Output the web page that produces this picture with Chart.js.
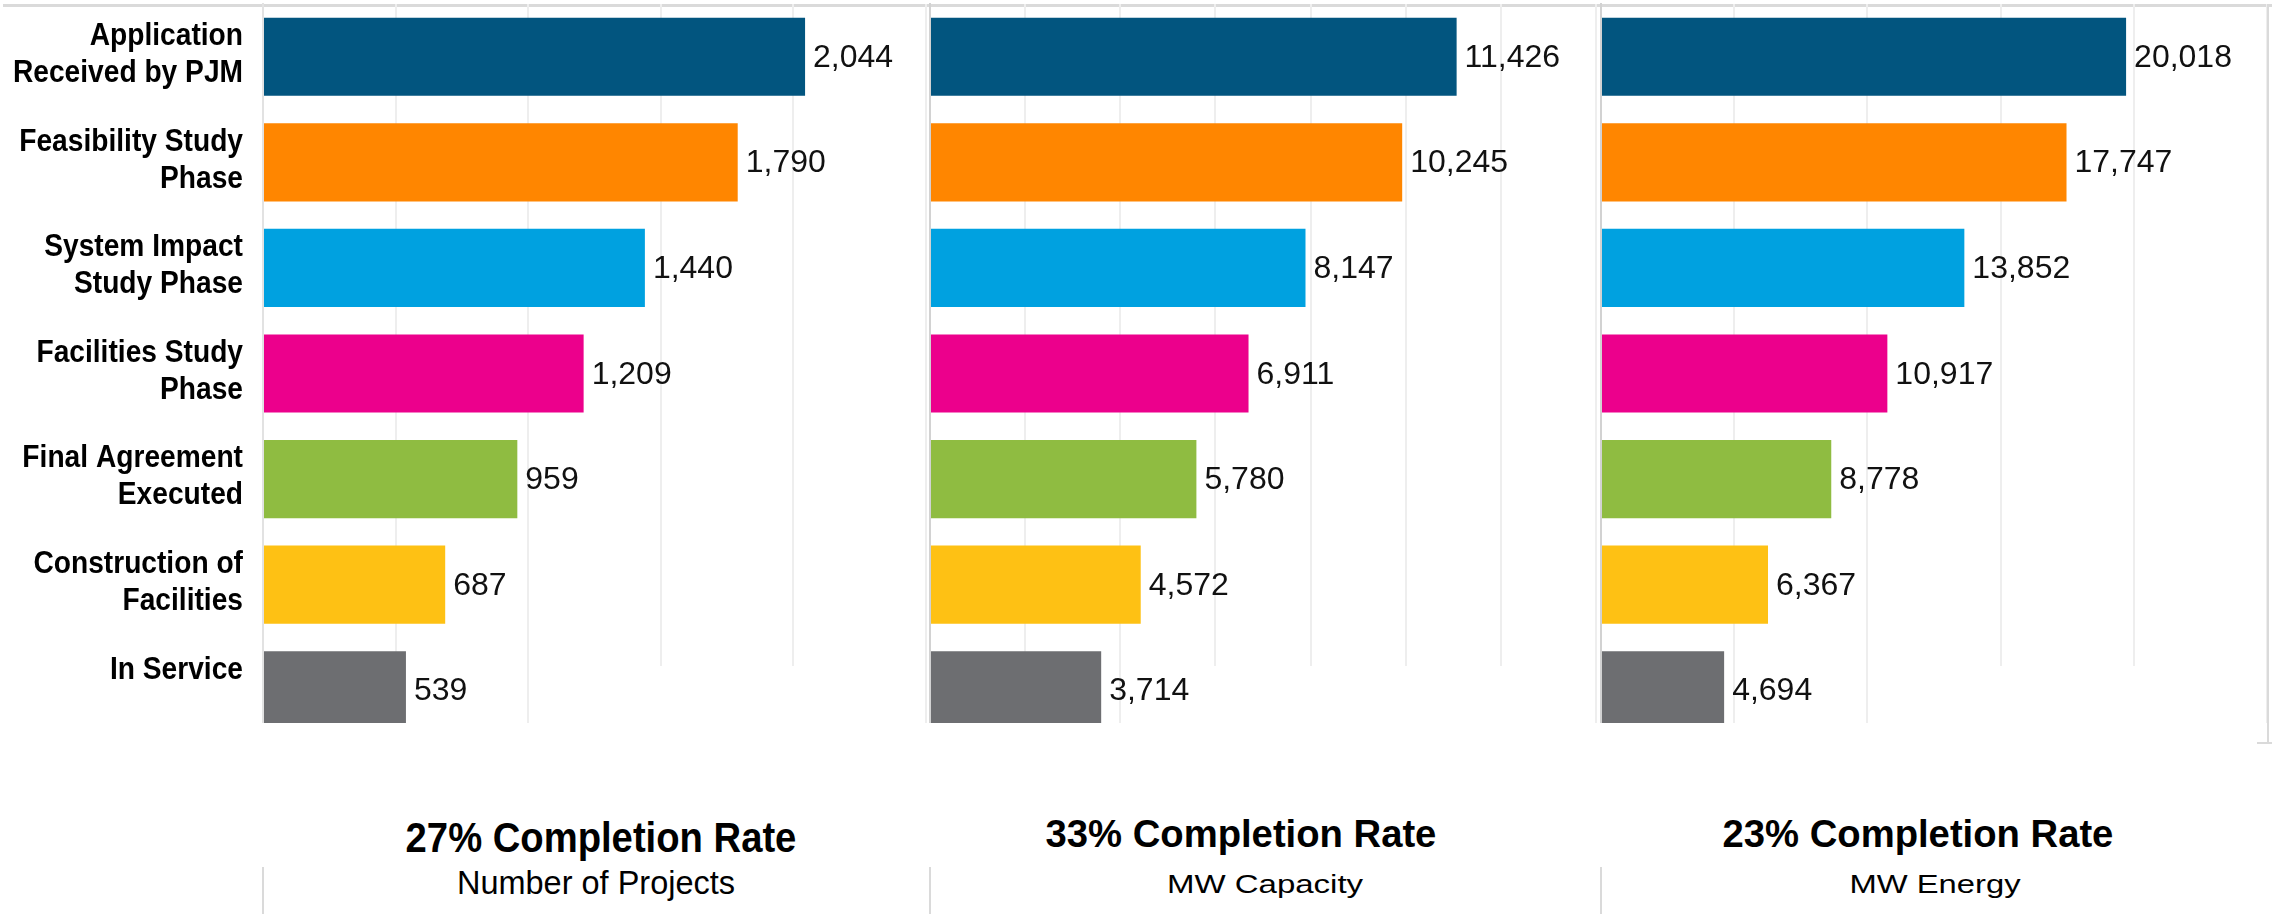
<!DOCTYPE html>
<html><head><meta charset="utf-8">
<script src="https://cdn.jsdelivr.net/npm/chart.js@4/dist/chart.umd.min.js"></script>
<style>
html,body{margin:0;padding:0;background:#fff;}
body{width:2272px;height:914px;position:relative;overflow:hidden;font-family:"Liberation Sans",Arial,sans-serif;}
.clip{position:absolute;top:0;height:723px;overflow:hidden;}
.clip canvas{position:absolute;left:0;top:0;}
.line{position:absolute;background:#dadada;}
.mask{position:absolute;background:#fff;top:666px;height:57px;}
.t{position:absolute;white-space:nowrap;line-height:1;color:#000;transform-origin:50% 0;}
.b{font-weight:bold;}
</style></head><body>
<div class="line" style="left:3px;top:4px;width:2269px;height:3px;"></div>
<div class="clip" style="left:0;width:930px;"><canvas id="c1" width="930" height="743"></canvas></div>
<div class="clip" style="left:929px;width:670px;"><canvas id="c2" width="670" height="743"></canvas></div>
<div class="clip" style="left:1600px;width:672px;"><canvas id="c3" width="672" height="743"></canvas></div>
<div class="mask" style="left:600px;width:250px;"></div>
<div class="mask" style="left:1200px;width:320px;"></div>
<div class="mask" style="left:1930px;width:260px;"></div>
<div class="line" style="left:2267px;top:4px;width:2px;height:739px;"></div>
<div class="line" style="left:2257px;top:742px;width:15px;height:2px;"></div>
<div class="line" style="left:262px;top:867px;width:2px;height:47px;"></div>
<div class="line" style="left:929px;top:867px;width:2px;height:47px;"></div>
<div class="line" style="left:1600px;top:867px;width:2px;height:47px;"></div>
<div id="footer"></div>
<script>
// ---- data ----
const categories = [
  ["Application", "Received by PJM"],
  ["Feasibility Study", "Phase"],
  ["System Impact", "Study Phase"],
  ["Facilities Study", "Phase"],
  ["Final Agreement", "Executed"],
  ["Construction of", "Facilities"],
  ["In Service", ""]
];
const numberOfProjects = [2044, 1790, 1440, 1209, 959, 687, 539];
const mwCapacity = [11426, 10245, 8147, 6911, 5780, 4572, 3714];
const mwEnergy = [20018, 17747, 13852, 10917, 8778, 6367, 4694];
const completionTitles = ["27% Completion Rate", "33% Completion Rate", "23% Completion Rate"];
const panelNames = ["Number of Projects", "MW Capacity", "MW Energy"];
const axisMax = [2500, 14450, 25390];
const axisStep = [500, 2000, 5000];
const barColors = ["#02557F", "#FF8600", "#00A1E0", "#EC008C", "#8FBC41", "#FEC114", "#6D6E71"];

const labelFamily = '"Liberation Sans", Arial, sans-serif';
const labelCondense = 0.88;

// category tick labels are drawn by Chart.js itself, only horizontally condensed
const condensedTicks = {
  id: 'condensedTicks',
  beforeDraw(chart) {
    const s = chart.scales.y;
    if (!s || s._condensed) return;
    s._condensed = true;
    s._computeLabelArea = function () { return undefined; };
    const orig = s.drawLabels;
    s.drawLabels = function (area) {
      const ctx = this.ctx;
      const ax = this.right - this.options.ticks.padding;
      ctx.save();
      ctx.translate(ax, 0);
      ctx.scale(labelCondense, 1);
      ctx.translate(-ax, 0);
      orig.call(this, area);
      ctx.restore();
    };
  }
};

const valueLabels = {
  id: 'valueLabels',
  afterDatasetsDraw(chart) {
    const ctx = chart.ctx;
    const meta = chart.getDatasetMeta(0);
    const data = chart.data.datasets[0].data;
    ctx.save();
    ctx.font = '32px "Liberation Sans", Arial, sans-serif';
    ctx.fillStyle = '#111';
    ctx.textAlign = 'left';
    ctx.textBaseline = 'alphabetic';
    meta.data.forEach((bar, i) => {
      ctx.fillText(data[i].toLocaleString('en-US'), bar.x + 8, bar.y + 10);
    });
    ctx.restore();
  }
};

function makeChart(id, values, idx, showLabels, yWidth, pad, borderColor) {
  return new Chart(document.getElementById(id), {
    type: 'bar',
    data: {
      labels: categories,
      datasets: [{
        data: values,
        backgroundColor: barColors,
        borderWidth: 0,
        barPercentage: 0.74,
        categoryPercentage: 1.0
      }]
    },
    options: {
      indexAxis: 'y',
      responsive: false,
      animation: false,
      devicePixelRatio: 1,
      layout: { padding: pad },
      plugins: { legend: { display: false }, tooltip: { enabled: false } },
      scales: {
        x: {
          min: 0,
          max: axisMax[idx],
          ticks: { display: false, stepSize: axisStep[idx], includeBounds: false },
          grid: {
            drawTicks: false,
            lineWidth: 2,
            color: (c) => (c.tick && c.tick.value === 0) ? 'rgba(0,0,0,0)' : '#eeeeee'
          },
          border: { display: false },
          afterFit: (s) => { s.height = 0; s.paddingLeft = 0; s.paddingRight = 0; }
        },
        y: {
          ticks: {
            display: showLabels,
            color: '#000',
            padding: 20,
            labelOffset: -2,
            font: { family: labelFamily, size: 32, weight: 'bold', lineHeight: '37px' }
          },
          grid: { display: true, color: 'rgba(0,0,0,0)', drawTicks: false },
          border: { display: true, color: borderColor, width: 2 },
          afterFit: (s) => { s.width = yWidth; s.paddingTop = 0; s.paddingBottom = 0; }
        }
      }
    },
    plugins: [condensedTicks, valueLabels]
  });
}

makeChart('c1', numberOfProjects, 0, true, 263, { top: 4, right: 4, left: 0, bottom: 0 }, '#e2e2e2');
makeChart('c2', mwCapacity, 1, false, 0, { top: 4, right: 3, left: 1, bottom: 0 }, '#d2d2d2');
makeChart('c3', mwEnergy, 2, false, 0, { top: 4, right: 5, left: 1, bottom: 0 }, '#d2d2d2');

// footer texts
const footerSpecs = [
  { text: completionTitles[0], bold: true, size: 42, sx: 0.91, cx: 601, top: 817 },
  { text: panelNames[0], bold: false, size: 33.5, sx: 0.97, cx: 596, top: 866 },
  { text: completionTitles[1], bold: true, size: 39, sx: 0.98, cx: 1241, top: 814 },
  { text: panelNames[1], bold: false, size: 25, sx: 1.32, cx: 1265, top: 872 },
  { text: completionTitles[2], bold: true, size: 39, sx: 0.98, cx: 1918, top: 814 },
  { text: panelNames[2], bold: false, size: 25, sx: 1.31, cx: 1935, top: 872 }
];
const footer = document.getElementById('footer');
footerSpecs.forEach(f => {
  const d = document.createElement('div');
  d.className = 't' + (f.bold ? ' b' : '');
  d.textContent = f.text;
  d.style.fontSize = f.size + 'px';
  d.style.left = f.cx + 'px';
  d.style.top = f.top + 'px';
  d.style.transform = 'translateX(-50%) scaleX(' + f.sx + ')';
  footer.appendChild(d);
});
</script>
</body></html>
